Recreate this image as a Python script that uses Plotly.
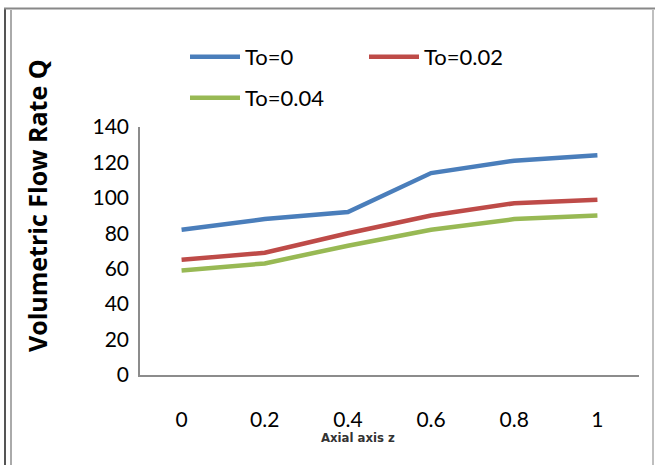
import plotly.graph_objects as go

z_labels = ["0", "0.2", "0.4", "0.6", "0.8", "1"]
q_to0 = [82, 88, 92, 114, 121, 124]
q_to002 = [65, 69, 80, 90, 97, 99]
q_to004 = [59, 63, 73, 82, 88, 90]
series_names = ["To=0", "To=0.02", "To=0.04"]
colors = ["#4A7EBB", "#BE4B48", "#98B954"]
y_ticks = [0, 20, 40, 60, 80, 100, 120, 140]

W, H = 655, 465
L, R, T, B = 140, 16, 127, 90
pw, ph = W - L - R, H - T - B

def ux(px):
    return (px - L) / pw

def vy(py):
    return (H - B - py) / ph

FONT = "Lato"
legend_ids = ["legend", "legend2", "legend3"]
legend_pos = [(185, 57), (364, 57), (185, 98)]

fig = go.Figure()
for name, vals, col, leg in zip(series_names, [q_to0, q_to002, q_to004], colors, legend_ids):
    fig.add_trace(go.Scatter(x=z_labels, y=vals, mode="lines", name=name,
                             line=dict(color=col, width=4.5), legend=leg))

legend_cfg = {}
for leg, (px, py) in zip(legend_ids, legend_pos):
    legend_cfg[leg] = dict(x=ux(px), y=vy(py), xanchor="left", yanchor="middle",
                           font=dict(family=FONT, size=22, color="#000"), itemwidth=50,
                           bgcolor="rgba(0,0,0,0)", borderwidth=0)

fig.update_layout(
    width=W, height=H,
    margin=dict(l=L, r=R, t=T, b=B),
    paper_bgcolor="white", plot_bgcolor="white",
    font=dict(family=FONT, size=20, color="#000000"),
    showlegend=True,
    **legend_cfg,
    xaxis=dict(type="category", range=[-0.5, 5.5], showline=True, linecolor="#8c8c8c",
               linewidth=1.5, showgrid=False, zeroline=False, ticks="",
               tickfont=dict(family=FONT, size=21, color="#000"), ticklabelstandoff=25),
    yaxis=dict(range=[0, 140], tickvals=y_ticks, showline=True, linecolor="#8c8c8c",
               linewidth=1.5, showgrid=False, zeroline=False, ticks="",
               tickfont=dict(family=FONT, size=21, color="#000"), ticklabelstandoff=5),
    annotations=[
        dict(text="<b>Volumetric Flow Rate Q</b>", xref="paper", yref="paper",
             x=ux(37), y=vy(206), textangle=-90, showarrow=False,
             font=dict(family="Open Sans", size=25, color="#000"), xanchor="center", yanchor="middle"),
        dict(text="<b>Axial axis z</b>", xref="paper", yref="paper",
             x=ux(358), y=vy(437), showarrow=False,
             font=dict(family="DejaVu Sans Condensed, Roboto Condensed, Roboto", size=13, color="#333"),
             xanchor="center", yanchor="middle"),
    ],
    shapes=[
        dict(type="line", xref="paper", yref="paper", x0=ux(5), x1=ux(5), y0=vy(8), y1=vy(465),
             line=dict(color="#555555", width=2)),
        dict(type="line", xref="paper", yref="paper", x0=ux(11), x1=ux(11), y0=vy(10), y1=vy(465),
             line=dict(color="#aaaaaa", width=2)),
        dict(type="line", xref="paper", yref="paper", x0=ux(4), x1=ux(655), y0=vy(8.5), y1=vy(8.5),
             line=dict(color="#888888", width=2)),
        dict(type="line", xref="paper", yref="paper", x0=ux(653), x1=ux(653), y0=vy(10), y1=vy(465),
             line=dict(color="#aaaaaa", width=1.5)),
    ],
)

fig.write_html("out.html")
